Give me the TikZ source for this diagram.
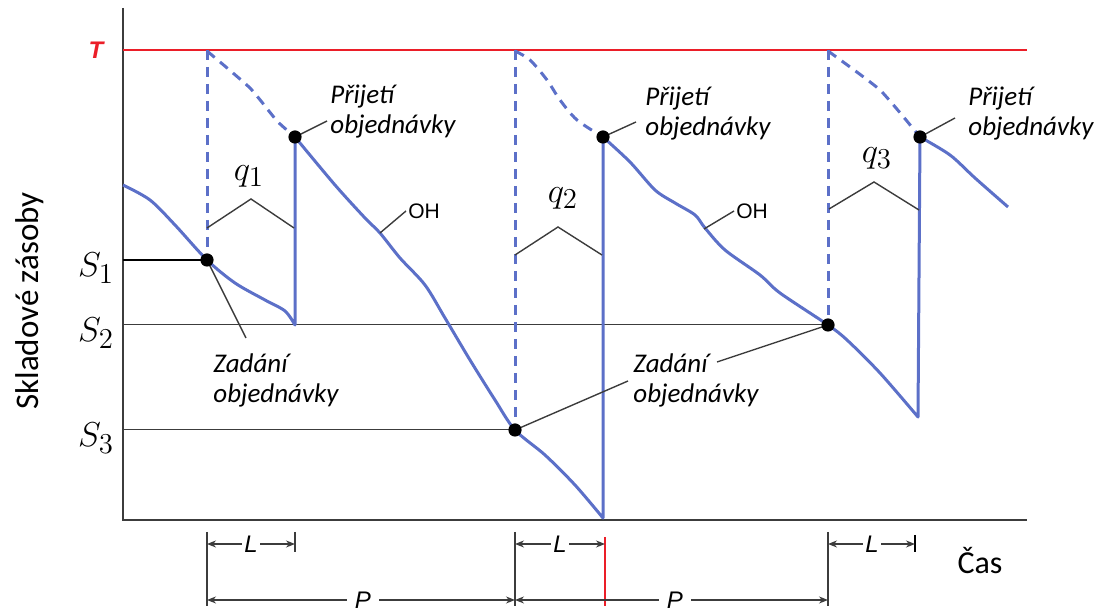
\documentclass[tikz,border=0pt]{standalone}
\usepackage{fontspec}
\setmainfont{Carlito}
\newfontfamily\arialfont{Liberation Sans}
\usetikzlibrary{arrows.meta}
\definecolor{zasoba}{RGB}{92,112,200}
\definecolor{cervena}{RGB}{235,30,40}
\definecolor{tmava}{RGB}{60,60,60}

\begin{document}
\begin{tikzpicture}[x=0.5pt,y=-0.5pt,
    stav/.style={zasoba,line width=1.5pt,line join=round},
    objed/.style={zasoba,line width=1.5pt,dash pattern=on 5pt off 3.5pt},
    popis/.style={font=\itshape\fontsize{13.5}{15}\selectfont,align=left,inner sep=0pt},
    velicina/.style={font=\fontsize{19}{22}\selectfont,inner sep=0pt},
    kota/.style={tmava,line width=0.7pt,-{Stealth[length=4.5pt,width=3.5pt]}},
    ryska/.style={tmava,line width=0.8pt},
    rozmer/.style={font=\arialfont\itshape\fontsize{12}{14}\selectfont,inner sep=1pt}]
  \useasboundingbox (0,0) rectangle (1094,613);
  % osy a hladina T
  \draw[tmava,line width=1.1pt] (123,8) -- (123,520) -- (1027,520);
  \draw[cervena,line width=1.2pt] (123,50) -- (1027,50);
  \node[cervena,font=\arialfont\bfseries\itshape\fontsize{12}{14}\selectfont] (T) at (96,50) {T};
  \node[rotate=90,font=\fontsize{16.5}{20}\selectfont] (osa) at (30,301) {Skladové zásoby};
  \node[font=\fontsize{16}{20}\selectfont] (cas) at (980,561) {Čas};

  % body zadani a prijeti
  \coordinate (z1) at (207,260);
  \coordinate (z2) at (515,430);
  \coordinate (z3) at (828,325);
  \coordinate (p1) at (295,137);
  \coordinate (p2) at (603,137);
  \coordinate (p3) at (920,137);

  % hladiny S
  \draw[line width=1.1pt] (123,260) -- (z1);
  \draw[tmava,line width=0.5pt] (123,325) -- (z3);
  \draw[tmava,line width=0.5pt] (123,430) -- (z2);
  \node[velicina] (s1) at (96,268) {$S_1$};
  \node[velicina] (s2) at (96,333) {$S_2$};
  \node[velicina] (s3) at (96,438) {$S_3$};

  % objednane mnozstvi (carkovane)
  \draw[objed] (207,50) -- (z1);
  \draw[objed] plot[smooth,tension=0.3] coordinates {(207,51) (250,88) (277,121) (p1)};
  \draw[objed] (515,50) -- (z2);
  \draw[objed] plot[smooth] coordinates {(515,51) (530,60) (547,80) (560,100) (577,120) (p2)};
  \draw[objed] (828,50) -- (z3);
  \draw[objed] plot[smooth,tension=0.3] coordinates {(828,51) (880,90) (p3)};

  % skladova zasoba
  \draw[stav] plot[smooth] coordinates {(123,185) (150,200) (175,225) (z1) (235,283) (265,300) (285,311) (295,325)} -- (p1);
  \draw[stav] plot[smooth] coordinates {(p1) (335,185) (365,218) (380,233) (400,258) (425,285) (445,318) (470,360) (495,400) (z2) (545,455) (575,485) (603,518)} -- (p2);
  \draw[stav] plot[smooth] coordinates {(p2) (630,162) (655,190) (675,203) (695,215) (705,228) (725,250) (760,275) (780,293) (z3) (847,340) (880,373) (918,417)} -- (p3);
  \draw[stav] plot[smooth] coordinates {(p3) (950,155) (975,178) (1008,207)};

  % mnozstvi q
  \draw[tmava,line width=0.7pt] (207,228) -- (251,199) -- (294,228);
  \draw[tmava,line width=0.7pt] (515,255) -- (558,227) -- (602,255);
  \draw[tmava,line width=0.7pt] (829,209) -- (874,182) -- (919,210);
  \node[velicina] (q1) at (249,176) {$q_1$};
  \node[velicina] (q2) at (563,198) {$q_2$};
  \node[velicina] (q3) at (877,158) {$q_3$};

  % popisky
  \node[popis,anchor=west] (prij1) at (330,112) {Přijetí\\objednávky};
  \node[popis,anchor=west] (prij2) at (645,114) {Přijetí\\objednávky};
  \node[popis,anchor=west] (prij3) at (968,114) {Přijetí\\objednávky};
  \node[popis,anchor=west] (zad1) at (213,380) {Zadání\\objednávky};
  \node[popis,anchor=west] (zad2) at (633,380) {Zadání\\objednávky};
  \coordinate (k1) at (327,121);
  \coordinate (k2) at (636,122);
  \coordinate (k3) at (955,118);
  \coordinate (k4) at (246,338);
  \coordinate (k5) at (628,381);
  \coordinate (k6) at (717,362);
  \draw[tmava,line width=0.7pt] (p1) -- (k1);
  \draw[tmava,line width=0.7pt] (p2) -- (k2);
  \draw[tmava,line width=0.7pt] (p3) -- (k3);
  \draw[tmava,line width=0.7pt] (z1) -- (k4);
  \draw[tmava,line width=0.7pt] (z2) -- (k5);
  \draw[tmava,line width=0.7pt] (k6) -- (z3);

  % OH
  \node[font=\arialfont\fontsize{10.5}{12}\selectfont,anchor=west,inner sep=1pt] (oh1) at (406,211) {OH};
  \node[font=\arialfont\fontsize{10.5}{12}\selectfont,anchor=west,inner sep=1pt] (oh2) at (734,211) {OH};
  \draw[tmava,line width=0.7pt] (380,233) -- (oh1.west);
  \draw[tmava,line width=0.7pt] (704,229) -- (oh2.west);

  % body
  \foreach \b in {z1,z2,z3,p1,p2,p3}
    \fill[black] (\b) circle (3.3pt);

  % koty L a P
  \draw[ryska] (207,532) -- (207,606);
  \draw[ryska] (295,532) -- (295,552);
  \draw[ryska] (515,532) -- (515,606);
  \draw[cervena,line width=1pt] (605,537) -- (605,606);
  \draw[ryska] (828,532) -- (828,606);
  \draw[black,line width=1.2pt] (915,535) -- (915,552);
  \coordinate (a1) at (207,542);
  \coordinate (b1) at (295,542);
  \coordinate (a2) at (515,542);
  \coordinate (b2) at (605,542);
  \coordinate (a3) at (828,542);
  \coordinate (b3) at (915,542);
  \node[rozmer] (L1) at (251,544) {L};
  \node[rozmer] (L2) at (560,544) {L};
  \node[rozmer] (L3) at (872,544) {L};
  \draw[kota] (L1.west) -- (L1.west -| a1);
  \draw[kota] (L1.east) -- (L1.east -| b1);
  \draw[kota] (L2.west) -- (L2.west -| a2);
  \draw[kota] (L2.east) -- (L2.east -| b2);
  \draw[kota] (L3.west) -- (L3.west -| a3);
  \draw[kota] (L3.east) -- (L3.east -| b3);
  \node[rozmer,inner sep=4pt] (P1) at (363,600) {P};
  \node[rozmer,inner sep=4pt] (P2) at (675,600) {P};
  \draw[kota] (P1.west) -- (P1.west -| a1);
  \draw[kota] (P1.east) -- (P1.east -| a2);
  \draw[kota] (P2.west) -- (P2.west -| a2);
  \draw[kota] (P2.east) -- (P2.east -| a3);
\end{tikzpicture}
\end{document}
